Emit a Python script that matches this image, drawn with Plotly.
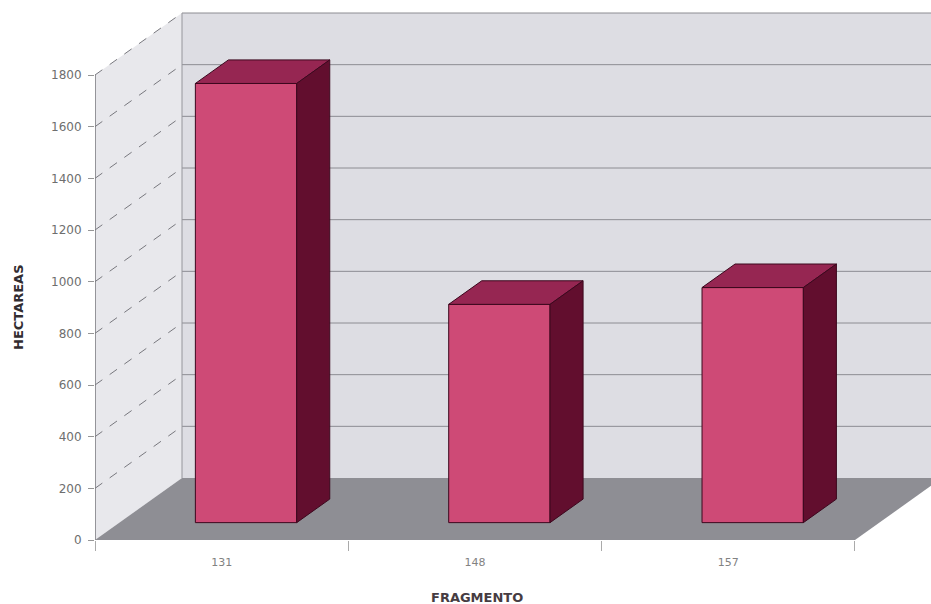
import plotly.graph_objects as go

# ---------------- data ----------------
categories = ["131", "148", "157"]
hectareas = [1700, 845, 910]
y_ticks = [0, 200, 400, 600, 800, 1000, 1200, 1400, 1600, 1800]
x_title = "FRAGMENTO"
y_title = "HECTAREAS"

# ---------------- geometry (3D look) ----------------
W, H = 931, 604
left_px, bottom_px = 95, 64          # front-plane origin in pixels
cat_px = 253.33                      # pixels per category
val_px = 465 / 1800                  # pixels per value unit
depth_dx_px, depth_dy_px = 87, 62    # full depth offset of the back wall
bar_front, bar_back = 0.28, 0.66     # bar depth position (fraction of full depth)
bar_width = 0.4

dxF = depth_dx_px / cat_px
dyF = depth_dy_px / val_px
x_lo = -0.5
x_hi = x_lo + (W - left_px) / cat_px
y_hi = (H - bottom_px) / val_px
n = len(categories)
x_front_hi = x_lo + n
xs = list(range(n))
vmax = y_ticks[-1]

COL_FRONT = "rgb(206,74,118)"
COL_TOP = "rgb(150,38,82)"
COL_SIDE = "rgb(98,14,46)"
COL_EDGE = "rgb(60,8,30)"

shapes = []
# back wall
shapes.append(dict(type="rect", xref="x", yref="y", x0=x_lo + dxF, x1=x_hi + 0.2,
                   y0=dyF, y1=vmax + dyF, fillcolor="rgb(221,221,227)",
                   line=dict(width=0), layer="below"))
# side wall
shapes.append(dict(type="path", xref="x", yref="y",
                   path=f"M {x_lo},0 L {x_lo},{vmax} L {x_lo+dxF},{vmax+dyF} L {x_lo+dxF},{dyF} Z",
                   fillcolor="rgb(232,232,236)", line=dict(width=0), layer="below"))
# back-wall gridlines
for v in y_ticks[1:]:
    shapes.append(dict(type="line", xref="x", yref="y", x0=x_lo + dxF, x1=x_hi + 0.2,
                       y0=v + dyF, y1=v + dyF,
                       line=dict(color="rgb(140,140,146)", width=1), layer="below"))
# side-wall gridlines (dashed diagonals)
for v in y_ticks[1:]:
    shapes.append(dict(type="line", xref="x", yref="y", x0=x_lo, x1=x_lo + dxF,
                       y0=v, y1=v + dyF,
                       line=dict(color="rgb(120,120,126)", width=1, dash="dash"), layer="below"))
# back wall left edge
shapes.append(dict(type="line", xref="x", yref="y", x0=x_lo + dxF, x1=x_lo + dxF,
                   y0=dyF, y1=vmax + dyF, line=dict(color="rgb(150,150,156)", width=1),
                   layer="below"))
# floor
shapes.append(dict(type="path", xref="x", yref="y",
                   path=(f"M {x_lo},0 L {x_front_hi},0 L {x_front_hi+dxF},{dyF} "
                         f"L {x_lo+dxF},{dyF} Z"),
                   fillcolor="rgb(142,142,148)", line=dict(width=0), layer="below"))
# front vertical axis line
shapes.append(dict(type="line", xref="x", yref="y", x0=x_lo, x1=x_lo, y0=0, y1=vmax,
                   line=dict(color="rgb(120,120,126)", width=1.5), layer="below"))

fig = go.Figure()

# bar front faces
fdx, fdy = dxF * bar_front, dyF * bar_front
ddx, ddy = dxF * (bar_back - bar_front), dyF * (bar_back - bar_front)
fig.add_trace(go.Bar(
    x=xs, y=hectareas, base=fdy, width=bar_width, offset=-bar_width / 2 + fdx,
    marker=dict(color=COL_FRONT, line=dict(color=COL_EDGE, width=1)),
    hovertemplate="%{customdata}: %{y}<extra></extra>", customdata=categories,
    showlegend=False))

# top and side faces from the same values
for i, v in zip(xs, hectareas):
    xl = i - bar_width / 2 + fdx
    xr = i + bar_width / 2 + fdx
    top = v + fdy
    fig.add_trace(go.Scatter(
        x=[xl, xr, xr + ddx, xl + ddx, xl], y=[top, top, top + ddy, top + ddy, top],
        fill="toself", fillcolor=COL_TOP, mode="lines",
        line=dict(color=COL_EDGE, width=1), hoverinfo="skip", showlegend=False))
    fig.add_trace(go.Scatter(
        x=[xr, xr + ddx, xr + ddx, xr, xr], y=[fdy, fdy + ddy, top + ddy, top, fdy],
        fill="toself", fillcolor=COL_SIDE, mode="lines",
        line=dict(color=COL_EDGE, width=1), hoverinfo="skip", showlegend=False))

fig.update_layout(
    width=W, height=H,
    margin=dict(l=left_px, r=0, t=0, b=bottom_px),
    paper_bgcolor="white", plot_bgcolor="white",
    shapes=shapes,
    xaxis=dict(range=[x_lo, x_hi], tickvals=xs, ticktext=categories,
               showgrid=False, zeroline=False, showline=False,
               ticks="", ticklabelstandoff=14,
               tickfont=dict(family="DejaVu Sans", size=11, color="rgb(130,130,130)"),
               minor=dict(ticks="outside", tick0=-0.5, dtick=1, ticklen=10,
                          tickcolor="rgb(170,170,170)", showgrid=False),
               fixedrange=True),
    yaxis=dict(range=[0, y_hi], tickvals=y_ticks, showgrid=False, zeroline=False,
               showline=False, ticks="outside", ticklen=6, tickcolor="rgb(150,150,150)",
               ticklabelstandoff=4,
               tickfont=dict(family="DejaVu Sans", size=12, color="rgb(110,110,110)"),
               fixedrange=True),
    annotations=[
        dict(text=f"<b>{x_title}</b>", xref="paper", yref="paper", x=(477 - left_px) / (W - left_px),
             y=-(597 - (H - bottom_px)) / (H - bottom_px), xanchor="center", yanchor="middle",
             showarrow=False,
             font=dict(family="DejaVu Sans", size=13, color="rgb(70,60,66)")),
        dict(text=f"<b>{y_title}</b>", xref="paper", yref="paper", x=(18 - left_px) / (W - left_px),
             y=1 - 307 / (H - bottom_px), xanchor="center", yanchor="middle",
             showarrow=False, textangle=-90,
             font=dict(family="DejaVu Sans", size=13, color="rgb(50,44,48)")),
    ],
)

fig.write_html("out.html")
